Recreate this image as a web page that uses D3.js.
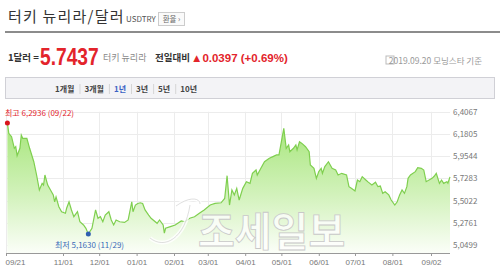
<!DOCTYPE html>
<html>
<head>
<meta charset="utf-8">
<script src="https://cdn.jsdelivr.net/npm/d3@7"></script>
<style>
  body { margin: 0; background: #fff; }
  svg { display: block; font-family: "Noto Sans CJK KR", "Noto Sans", sans-serif; }
  .grid line { stroke: #ececec; }
  .axis text { fill: #777; font-size: 8px; }
</style>
</head>
<body>
<svg id="chart" width="500" height="270"></svg>
<script>
// data
const dates = [
  '2018-09-22','2018-09-23','2018-09-25','2018-09-27','2018-09-28','2018-09-29','2018-10-01','2018-10-02',
  '2018-10-03','2018-10-06','2018-10-08','2018-10-11','2018-10-13','2018-10-15','2018-10-17','2018-10-18',
  '2018-10-19','2018-10-21','2018-10-23','2018-10-25','2018-10-26','2018-10-27','2018-10-29','2018-10-31',
  '2018-11-03','2018-11-04','2018-11-06','2018-11-08','2018-11-10','2018-11-13','2018-11-15','2018-11-18',
  '2018-11-20','2018-11-21','2018-11-22','2018-11-25','2018-11-28','2018-11-30','2018-12-02','2018-12-04',
  '2018-12-06','2018-12-09','2018-12-11','2018-12-13','2018-12-15','2018-12-18','2018-12-22','2018-12-25',
  '2018-12-28','2018-12-29','2018-12-31','2019-01-02','2019-01-04','2019-01-06','2019-01-08','2019-01-11',
  '2019-01-13','2019-01-18','2019-01-20','2019-01-23','2019-01-24','2019-01-25','2019-01-29','2019-02-02',
  '2019-02-07','2019-02-10','2019-02-14','2019-02-18','2019-02-22','2019-02-26','2019-03-03','2019-03-07',
  '2019-03-12','2019-03-15','2019-03-17','2019-03-19','2019-03-21','2019-03-23','2019-03-25','2019-03-27',
  '2019-03-30','2019-04-02','2019-04-05','2019-04-07','2019-04-10','2019-04-11','2019-04-14','2019-04-17',
  '2019-04-21','2019-04-24','2019-04-27','2019-04-29','2019-05-01','2019-05-03','2019-05-05','2019-05-07',
  '2019-05-08','2019-05-11','2019-05-13','2019-05-14','2019-05-16','2019-05-18','2019-05-21','2019-05-24',
  '2019-05-25','2019-05-28','2019-05-30','2019-06-01','2019-06-03','2019-06-04','2019-06-06','2019-06-09',
  '2019-06-12','2019-06-15','2019-06-17','2019-06-20','2019-06-24','2019-06-26','2019-06-28','2019-07-01',
  '2019-07-03','2019-07-05','2019-07-07','2019-07-10','2019-07-12','2019-07-15','2019-07-18','2019-07-20',
  '2019-07-22','2019-07-24','2019-07-26','2019-07-29','2019-07-31','2019-08-03','2019-08-05','2019-08-07',
  '2019-08-09','2019-08-11','2019-08-13','2019-08-14','2019-08-16','2019-08-20','2019-08-22','2019-08-25',
  '2019-08-27','2019-08-29','2019-09-03','2019-09-05','2019-09-07','2019-09-10','2019-09-12','2019-09-14',
  '2019-09-17','2019-09-18','2019-09-20'
];
const rates = [
  6.2936,6.188,6.153,6.035,6.051,5.96,6.035,6.17,
  6.137,6.137,6.035,5.898,5.763,5.61,5.678,5.66,
  5.763,5.66,5.61,5.56,5.49,5.54,5.44,5.389,
  5.373,5.424,5.49,5.407,5.338,5.389,5.287,5.254,
  5.22,5.19,5.163,5.22,5.407,5.322,5.338,5.287,
  5.355,5.389,5.305,5.254,5.305,5.287,5.28,5.305,
  5.49,5.389,5.457,5.473,5.48,5.473,5.407,5.355,
  5.322,5.271,5.305,5.254,5.17,5.22,5.237,5.254,
  5.295,5.287,5.322,5.338,5.373,5.407,5.457,5.473,
  5.48,5.524,5.756,5.457,5.61,5.56,5.627,5.508,
  5.627,5.695,5.678,5.78,5.814,5.763,5.831,5.898,
  5.933,5.95,5.967,5.967,6.102,6.238,6.035,6.069,
  6.0,6.035,6.069,6.018,6.102,6.085,6.051,6.0,
  5.865,5.831,5.729,5.797,5.831,5.78,5.848,5.898,
  5.831,5.814,5.763,5.78,5.763,5.644,5.627,5.6,
  5.712,5.695,5.746,5.712,5.69,5.661,5.69,5.644,
  5.65,5.576,5.593,5.56,5.508,5.457,5.49,5.56,
  5.61,5.576,5.644,5.729,5.763,5.797,5.838,5.831,
  5.814,5.695,5.729,5.75,5.78,5.678,5.712,5.678,
  5.695,5.68,5.7437
];
const xTickDates = ['2018-09-21','2018-11-01','2018-12-01','2019-01-01','2019-02-01','2019-03-01',
  '2019-04-01','2019-05-01','2019-06-01','2019-07-01','2019-08-01','2019-09-02'];
const yTicks = [6.4067, 6.1805, 5.9544, 5.7283, 5.5022, 5.2761, 5.0499];
const periods = ['1개월', '3개월', '1년', '3년', '5년', '10년'];
const activePeriod = '1년';
const high = { date: '2018-09-22', value: 6.2936, label: '최고 6,2936 (09/22)' };
const low = { date: '2018-11-22', value: 5.1630, label: '최저 5,1630 (11/29)' };

const parse = d3.timeParse('%Y-%m-%d');
const data = dates.map((d, i) => ({ date: parse(d), value: rates[i] }));

const svg = d3.select('#chart');

// ---- header ----
svg.append('text').attr('x', 8).attr('y', 22)
  .attr('font-size', 15).attr('fill', '#333').attr('letter-spacing', 1.2)
  .text('터키 뉴리라/달러');
svg.append('text').attr('x', 126).attr('y', 22)
  .attr('font-size', 8).attr('fill', '#555').text('USDTRY');
svg.append('rect').attr('x', 158.5).attr('y', 12.5).attr('width', 26).attr('height', 13)
  .attr('fill', '#fafafa').attr('stroke', '#ccc');
svg.append('text').attr('x', 171.5).attr('y', 22).attr('text-anchor', 'middle')
  .attr('font-size', 7.5).attr('fill', '#666').text('환율 ›');
svg.append('line').attr('x1', 5).attr('x2', 500).attr('y1', 32).attr('y2', 32)
  .attr('stroke', '#666').attr('stroke-width', 1.5);

svg.append('text').attr('x', 8).attr('y', 61)
  .attr('font-size', 9.5).attr('font-weight', 'bold').attr('fill', '#333').text('1달러 =');
// big current rate, squeezed horizontally like the original's condensed face
svg.append('text')
  .attr('transform', 'translate(40,65) scale(0.8,1)')
  .attr('font-size', 24).attr('font-weight', 'bold').attr('fill', '#e3242b')
  .attr('font-family', 'Liberation Sans, Arial, sans-serif')
  .text('5.7437');
svg.append('text').attr('x', 103).attr('y', 61)
  .attr('font-size', 9).attr('fill', '#888').text('터키 뉴리라');
svg.append('text').attr('x', 155).attr('y', 61)
  .attr('font-size', 9.5).attr('font-weight', 'bold').attr('fill', '#333').text('전일대비');
svg.append('text').attr('x', 191).attr('y', 62)
  .attr('font-size', 11.5).attr('font-weight', 'bold').attr('fill', '#e3242b')
  .attr('font-family', 'Liberation Sans, Arial, sans-serif').text('▲0.0397 (+0.69%)');
svg.append('rect').attr('x', 386).attr('y', 56).attr('width', 8).attr('height', 8)
  .attr('fill', 'none').attr('stroke', '#bbb');
svg.append('text').attr('x', 482).attr('y', 64).attr('text-anchor', 'end')
  .attr('font-size', 8.5).attr('fill', '#999').text('2019.09.20  모닝스타 기준');

// period tabs
svg.append('rect').attr('x', 5.5).attr('y', 77.5).attr('width', 489).attr('height', 21)
  .attr('fill', '#f3f3f6').attr('stroke', '#d0d0d6');
const tabs = svg.selectAll('.tab').data(periods).enter().append('text')
  .attr('class', 'tab')
  .attr('y', 92)
  .attr('font-size', 8).attr('font-weight', 'bold')
  .attr('fill', d => d === activePeriod ? '#3b62c4' : '#444')
  .text(d => d);
// lay tabs out one after another with separators
let tx = 55;
const gap = 10;
tabs.each(function(d, i) {
  const w = this.getComputedTextLength();
  d3.select(this).attr('x', tx);
  if (i > 0) {
    svg.append('line').attr('x1', tx - gap / 2 + 0.5).attr('x2', tx - gap / 2 + 0.5)
      .attr('y1', 84).attr('y2', 94).attr('stroke', '#d5d5d5');
  }
  tx += w + gap;
});

// ---- chart ----
const x = d3.scaleTime()
  .domain([parse('2018-09-21'), parse('2018-11-01'), parse('2019-09-02'), parse('2019-09-20')])
  .range([6, 63, 431, 450]);
const y = d3.scaleLinear().domain([5.0499, 6.4067]).range([245, 111.8]);
const plotBottom = 253;

const defs = svg.append('defs');
const grad = defs.append('linearGradient').attr('id', 'fillGrad')
  .attr('x1', 0).attr('y1', 0).attr('x2', 0).attr('y2', 1);
grad.append('stop').attr('offset', '0%').attr('stop-color', '#a6e57a');
grad.append('stop').attr('offset', '55%').attr('stop-color', '#d2f2bb');
grad.append('stop').attr('offset', '100%').attr('stop-color', '#fbfef8');

// grid
const grid = svg.append('g').attr('class', 'grid');
grid.selectAll('.hg').data(yTicks).enter().append('line')
  .attr('x1', 6).attr('x2', 450)
  .attr('y1', d => Math.round(y(d)) + 0.5).attr('y2', d => Math.round(y(d)) + 0.5);
grid.selectAll('.vg').data(xTickDates).enter().append('line')
  .attr('x1', d => Math.round(x(parse(d))) + 0.5).attr('x2', d => Math.round(x(parse(d))) + 0.5)
  .attr('y1', 111.8).attr('y2', plotBottom);

const area = d3.area()
  .x(d => x(d.date)).y0(plotBottom).y1(d => y(d.value));
const line = d3.line()
  .x(d => x(d.date)).y(d => y(d.value));

svg.append('path').datum(data).attr('d', area).attr('fill', 'url(#fillGrad)');
svg.append('path').datum(data).attr('d', line)
  .attr('fill', 'none').attr('stroke', '#7fcf4f').attr('stroke-width', 1.2);

// watermark
const swoosh = 'M150,238 C165,250 185,238 190,205 M176,206 C190,196 200,198 200,204';
svg.append('path').attr('d', swoosh)
  .attr('fill', 'none').attr('stroke', '#fff').attr('stroke-opacity', 0.8).attr('stroke-width', 4);
svg.append('path').attr('d', swoosh)
  .attr('fill', 'none').attr('stroke', '#bbb').attr('stroke-opacity', 0.6).attr('stroke-width', 0.8);
svg.append('text').attr('x', 198).attr('y', 246)
  .attr('font-size', 40).attr('font-weight', 'bold')
  .attr('fill', '#fff').attr('fill-opacity', 0.75)
  .attr('stroke', '#c8c8c8').attr('stroke-width', 0.8)
  .text('조세일보');

// x axis
const xAxis = d3.axisBottom(x)
  .tickValues(xTickDates.map(parse))
  .tickFormat(d3.timeFormat('%m/%d'))
  .tickSize(3).tickPadding(3);
const gx = svg.append('g').attr('class', 'axis')
  .attr('transform', 'translate(0,' + plotBottom + ')')
  .call(xAxis);
gx.select('.domain').attr('stroke', '#999').attr('d', 'M6,0.5H450');
gx.selectAll('.tick line').attr('stroke', '#999');
gx.select('.tick text').attr('text-anchor', 'start').attr('dx', -1);

// y labels
svg.selectAll('.ylab').data(yTicks).enter().append('text')
  .attr('class', 'ylab')
  .attr('x', 453).attr('y', d => y(d) + 3)
  .attr('font-size', 8).attr('fill', '#777')
  .text(d => d.toFixed(4).replace('.', ','));

// high / low markers
svg.append('circle').attr('cx', x(parse(high.date))).attr('cy', y(high.value))
  .attr('r', 2.5).attr('fill', '#d9141c');
svg.append('text').attr('x', 5).attr('y', 116)
  .attr('font-size', 8).attr('fill', '#e3242b').text(high.label);
svg.append('circle').attr('cx', x(parse(low.date))).attr('cy', y(low.value))
  .attr('r', 2.5).attr('fill', '#2f5fb0');
svg.append('text').attr('x', 55).attr('y', 248)
  .attr('font-size', 8).attr('fill', '#3a6bb8').text(low.label);
</script>
</body>
</html>
